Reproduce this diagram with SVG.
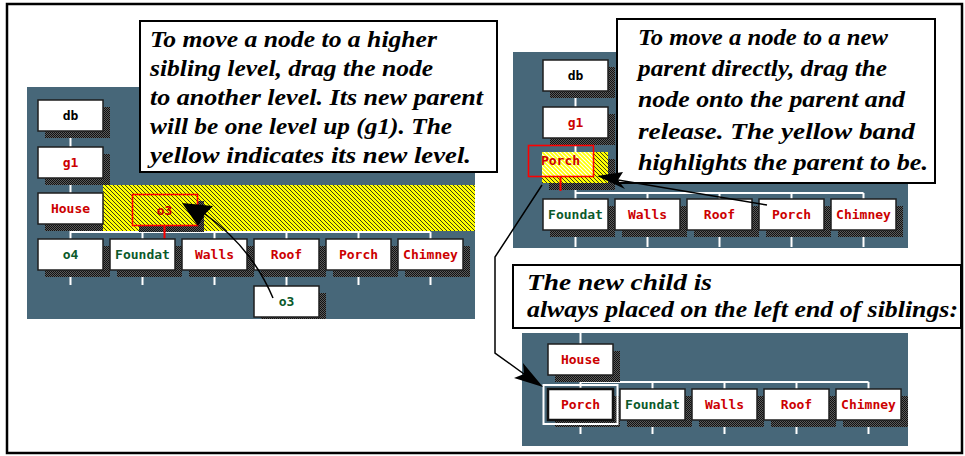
<svg xmlns="http://www.w3.org/2000/svg" width="965" height="456" viewBox="0 0 965 456">
<defs>
<pattern id="dith" width="2" height="2" patternUnits="userSpaceOnUse"><rect width="2" height="2" fill="#5a5a5a"/><rect width="1" height="1" fill="#111"/><rect x="1" y="1" width="1" height="1" fill="#111"/></pattern>
<pattern id="hatch" width="4" height="4" patternUnits="userSpaceOnUse"><rect width="4" height="4" fill="#ffff00"/><path d="M0,0 L4,4 M-1,3 L1,5 M3,-1 L5,1" stroke="#33331a" stroke-width="0.95"/></pattern>
<pattern id="hatchw" width="4" height="4" patternUnits="userSpaceOnUse"><rect width="4" height="4" fill="#ffff00"/><path d="M0,0 L4,4 M-1,3 L1,5 M3,-1 L5,1" stroke="#ffffff" stroke-width="1.2"/></pattern>
</defs>
<style>
.panel{fill:#476779}
.wire{stroke:#ffffff;stroke-width:2;fill:none}
.sh{fill:url(#dith)}
.box{fill:#ffffff;stroke:#1e1e1e;stroke-width:1.5}
.t{font-family:"DejaVu Sans Mono",monospace;font-weight:bold;font-size:13px;text-anchor:middle}
.r{fill:#cc0000}
.g{fill:#0b5a2b}
.k{fill:#000}
.call{fill:#ffffff;stroke:#000;stroke-width:2}
.ct{font-family:"Liberation Serif",serif;font-weight:bold;font-style:italic;font-size:23.5px;fill:#000}
.ghost{fill:none;stroke:#ff0000;stroke-width:1.6}
.arr{stroke:#000;stroke-width:1.5;fill:none}
</style>
<rect x="0" y="0" width="965" height="456" fill="#ffffff"/>
<rect x="7" y="4" width="955" height="449" fill="none" stroke="#000" stroke-width="2.5"/>

<!-- LEFT PANEL -->
<rect class="panel" x="27" y="87" width="448" height="232"/>
<g id="left-connectors">
<path class="wire" d="M70.5,131 V239 M70.5,232 H430.5 M142.5,232 V239 M214.5,232 V239 M286.5,232 V239 M358.5,232 V239 M430.5,232 V239 M70.5,270 V285 M142.5,270 V285 M214.5,270 V285 M286.5,270 V286 M358.5,270 V285 M430.5,270 V285 M286.5,317 V319"/>
</g>
<g id="left-shadows">
<rect class="sh" x="45" y="107" width="65" height="31"/>
<rect class="sh" x="45" y="154" width="65" height="31"/>
<rect class="sh" x="45" y="200" width="65" height="31"/>
<rect class="sh" x="45" y="246" width="65" height="31"/>
<rect class="sh" x="117" y="246" width="65" height="31"/>
<rect class="sh" x="189" y="246" width="65" height="31"/>
<rect class="sh" x="261" y="246" width="65" height="31"/>
<rect class="sh" x="333" y="246" width="65" height="31"/>
<rect class="sh" x="405" y="246" width="65" height="31"/>
<rect class="sh" x="261" y="293" width="65" height="26"/>
</g>
<g id="yellow-band">
<rect x="103" y="185" width="372" height="46" fill="url(#hatch)"/>
<rect class="sh" x="139" y="201" width="65" height="31"/>
<rect x="132" y="194" width="65" height="31" fill="url(#hatch)"/>
</g>
<g id="ghost-o3">
<rect class="ghost" x="132.5" y="194.5" width="65" height="31"/>
<line x1="164.5" y1="225" x2="164.5" y2="239" stroke="#ff0000" stroke-width="2"/>
<text class="t r" x="164.5" y="214.5">o3</text>
</g>
<g id="node-db-l"><rect class="box" x="38" y="100" width="65" height="31"/><text class="t k" x="70.5" y="120">db</text></g>
<g id="node-g1-l"><rect class="box" x="38" y="147" width="65" height="31"/><text class="t r" x="70.5" y="167">g1</text></g>
<g id="node-house-l"><rect class="box" x="38" y="193" width="65" height="31"/><text class="t r" x="70.5" y="213">House</text></g>
<g id="node-o4-l"><rect class="box" x="38" y="239" width="65" height="31"/><text class="t g" x="70.5" y="259">o4</text></g>
<g id="node-foundat-l"><rect class="box" x="110" y="239" width="65" height="31"/><text class="t g" x="142.5" y="259">Foundat</text></g>
<g id="node-walls-l"><rect class="box" x="182" y="239" width="65" height="31"/><text class="t r" x="214.5" y="259">Walls</text></g>
<g id="node-roof-l"><rect class="box" x="254" y="239" width="65" height="31"/><text class="t r" x="286.5" y="259">Roof</text></g>
<g id="node-porch-l"><rect class="box" x="326" y="239" width="65" height="31"/><text class="t r" x="358.5" y="259">Porch</text></g>
<g id="node-chimney-l"><rect class="box" x="398" y="239" width="65" height="31"/><text class="t r" x="430.5" y="259">Chimney</text></g>
<g id="node-o3-l"><rect class="box" x="254" y="286" width="65" height="31"/><text class="t g" x="286.5" y="306">o3</text></g>

<!-- RIGHT TOP PANEL -->
<rect class="panel" x="513" y="52" width="395" height="196"/>
<g id="rt-connectors">
<path class="wire" d="M575.5,91 V199 M575.5,193 H863.5 M647.5,193 V199 M719.5,193 V199 M791.5,193 V199 M863.5,193 V199 M575.5,230 V247 M647.5,230 V247 M719.5,230 V247 M791.5,230 V247 M863.5,230 V247"/>
</g>
<g id="rt-shadows">
<rect class="sh" x="550" y="67" width="65" height="31"/>
<rect class="sh" x="550" y="114" width="65" height="31"/>
<rect class="sh" x="549" y="159" width="66" height="31"/>
<rect class="sh" x="550" y="206" width="65" height="31"/>
<rect class="sh" x="622" y="206" width="65" height="31"/>
<rect class="sh" x="694" y="206" width="65" height="31"/>
<rect class="sh" x="766" y="206" width="65" height="31"/>
<rect class="sh" x="838" y="206" width="65" height="31"/>
</g>
<g id="node-db-rt"><rect class="box" x="543" y="60" width="65" height="31"/><text class="t k" x="575.5" y="80">db</text></g>
<g id="node-g1-rt"><rect class="box" x="543" y="107" width="65" height="31"/><text class="t r" x="575.5" y="127">g1</text></g>
<g id="node-target-rt">
<rect x="542" y="152" width="66" height="31" fill="url(#hatch)"/>
<rect x="542" y="152" width="51" height="24" fill="url(#hatchw)"/>
</g>
<g id="ghost-porch">
<rect class="ghost" x="528.5" y="145.5" width="65" height="31"/>
<line x1="560.5" y1="176" x2="560.5" y2="191" stroke="#ff0000" stroke-width="2"/>
<text class="t r" x="560.5" y="165" stroke="#ffff66" stroke-width="0.6" paint-order="stroke">Porch</text>
</g>
<g id="node-foundat-rt"><rect class="box" x="543" y="199" width="65" height="31"/><text class="t g" x="575.5" y="219">Foundat</text></g>
<g id="node-walls-rt"><rect class="box" x="615" y="199" width="65" height="31"/><text class="t r" x="647.5" y="219">Walls</text></g>
<g id="node-roof-rt"><rect class="box" x="687" y="199" width="65" height="31"/><text class="t r" x="719.5" y="219">Roof</text></g>
<g id="node-porch-rt"><rect class="box" x="759" y="199" width="65" height="31"/><text class="t r" x="791.5" y="219">Porch</text></g>
<g id="node-chimney-rt"><rect class="box" x="831" y="199" width="65" height="31"/><text class="t r" x="863.5" y="219">Chimney</text></g>

<!-- BOTTOM PANEL -->
<rect class="panel" x="522" y="333" width="386" height="113"/>
<g id="b-connectors">
<path class="wire" d="M580.5,333 V389 M580.5,382 H868.5 M652.5,382 V389 M724.5,382 V389 M796.5,382 V389 M868.5,382 V389 M580.5,424 V434 M652.5,420 V434 M724.5,420 V434 M796.5,420 V434 M868.5,420 V434"/>
</g>
<g id="b-shadows">
<rect class="sh" x="555" y="351" width="65" height="31"/>
<rect class="sh" x="555" y="396" width="65" height="31"/>
<rect class="sh" x="627" y="396" width="65" height="31"/>
<rect class="sh" x="699" y="396" width="65" height="31"/>
<rect class="sh" x="771" y="396" width="65" height="31"/>
<rect class="sh" x="843" y="396" width="65" height="31"/>
</g>
<g id="node-house-b"><rect class="box" x="548" y="344" width="65" height="31"/><text class="t r" x="580.5" y="364">House</text></g>
<g id="node-porch-b">
<rect x="543.5" y="385" width="74" height="39" fill="none" stroke="#ffffff" stroke-width="2"/>
<rect x="548" y="389" width="65" height="31" fill="#ffffff" stroke="#111" stroke-width="2.5"/>
<text class="t r" x="580.5" y="409">Porch</text>
</g>
<g id="node-foundat-b"><rect class="box" x="620" y="389" width="65" height="31"/><text class="t g" x="652.5" y="409">Foundat</text></g>
<g id="node-walls-b"><rect class="box" x="692" y="389" width="65" height="31"/><text class="t r" x="724.5" y="409">Walls</text></g>
<g id="node-roof-b"><rect class="box" x="764" y="389" width="65" height="31"/><text class="t r" x="796.5" y="409">Roof</text></g>
<g id="node-chimney-b"><rect class="box" x="836" y="389" width="65" height="31"/><text class="t r" x="868.5" y="409">Chimney</text></g>

<!-- CALLOUTS -->
<g id="callout-1">
<rect class="call" x="140" y="21" width="357" height="151"/>
<text class="ct" x="150" y="47" textLength="287" lengthAdjust="spacingAndGlyphs">To move a node to a higher</text>
<text class="ct" x="150" y="76" textLength="283" lengthAdjust="spacingAndGlyphs">sibling level, drag the node</text>
<text class="ct" x="150" y="105" textLength="333" lengthAdjust="spacingAndGlyphs">to another level. Its new parent</text>
<text class="ct" x="150" y="134" textLength="302" lengthAdjust="spacingAndGlyphs">will be one level up (g1). The</text>
<text class="ct" x="150" y="163" textLength="321" lengthAdjust="spacingAndGlyphs">yellow indicates its new level.</text>
</g>
<g id="callout-2">
<rect class="call" x="617" y="19" width="318" height="164"/>
<text class="ct" x="638" y="45" textLength="250" lengthAdjust="spacingAndGlyphs">To move a node to a new</text>
<text class="ct" x="638" y="76" textLength="249" lengthAdjust="spacingAndGlyphs">parent directly, drag the</text>
<text class="ct" x="638" y="107" textLength="267" lengthAdjust="spacingAndGlyphs">node onto the parent and</text>
<text class="ct" x="638" y="139" textLength="277" lengthAdjust="spacingAndGlyphs">release. The yellow band</text>
<text class="ct" x="638" y="170" textLength="290" lengthAdjust="spacingAndGlyphs">highlights the parent to be.</text>
</g>
<g id="callout-3">
<rect class="call" x="513" y="265" width="448" height="63"/>
<text class="ct" x="527" y="290" textLength="185" lengthAdjust="spacingAndGlyphs">The new child is</text>
<text class="ct" x="527" y="317" textLength="431" lengthAdjust="spacingAndGlyphs">always placed on the left end of siblings:</text>
</g>

<!-- ARROWS -->
<g id="connectors">
<path class="arr" d="M273,298 Q252,248 205,214"/>
<polygon points="182,203 213,206 205,214 198,226" fill="#000"/>
<path class="arr" d="M767,205 L618,180"/>
<polygon points="597,176 623,172 618,180 625,189" fill="#000"/>
<path class="arr" d="M542,185 L495,257 L495,353 L524,374"/>
<polygon points="543,387 523,363 524,374 514,378" fill="#000"/>
</g>
</svg>
